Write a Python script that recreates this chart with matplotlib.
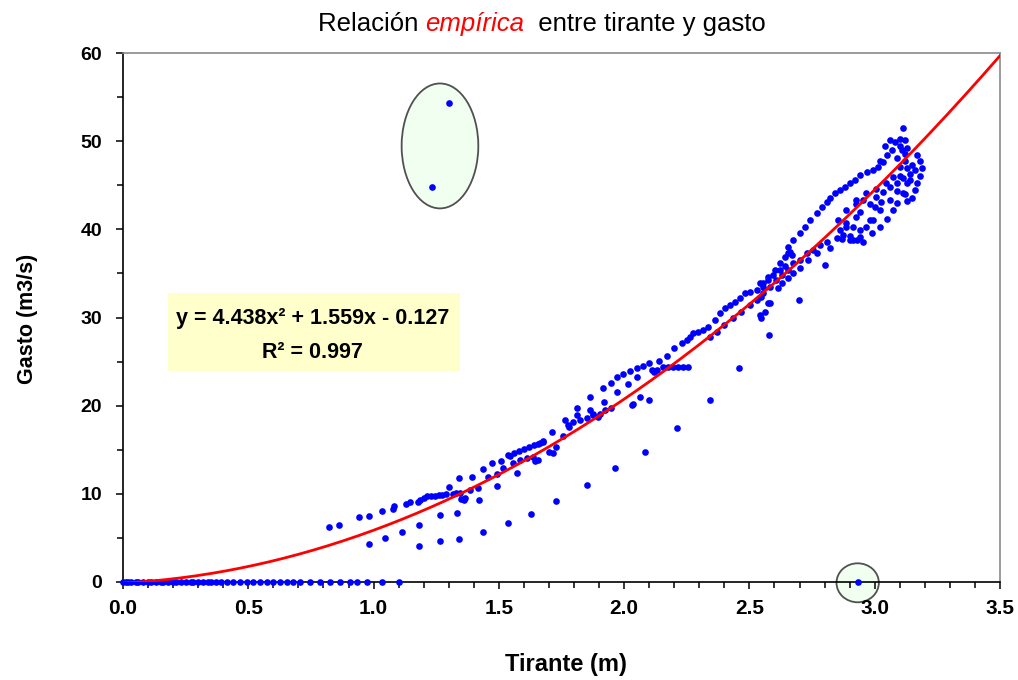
import matplotlib
matplotlib.use('Agg')
import matplotlib.pyplot as plt
from matplotlib.patches import Ellipse, Rectangle
import numpy as np

plt.rcParams['font.family'] = ['Liberation Sans', 'DejaVu Sans']

# ---------------- data ----------------
# readings with zero discharge
tirante_cero = [0.0, 0.01, 0.02, 0.03, 0.05, 0.06, 0.08, 0.10, 0.11, 0.13, 0.15, 0.16,
                0.18, 0.20, 0.21, 0.23, 0.25, 0.27, 0.28, 0.30, 0.32, 0.34, 0.35, 0.37,
                0.39, 0.414, 0.44, 0.467, 0.494, 0.52, 0.547, 0.573, 0.60, 0.627, 0.653,
                0.68, 0.706, 0.746, 0.786, 0.826, 0.866, 0.906, 0.932, 0.972, 1.032,
                1.102, 2.933]
gasto_cero = [0.0] * len(tirante_cero)

# isolated outliers (circled)
tirante_atipico = [1.232, 1.301]
gasto_atipico = [44.75, 54.3]

# low branch of scattered readings
tirante_bajo = [0.983, 1.045, 1.113, 1.182, 1.182, 1.265, 1.265, 1.334, 1.342, 1.435,
                1.535, 1.574, 1.628, 1.644, 1.73, 1.85, 1.963, 2.083, 2.209, 2.342,
                2.459, 2.579, 2.699, 2.801]
gasto_bajo = [4.31, 5.02, 5.70, 4.12, 6.46, 4.65, 7.6, 7.86, 4.84, 5.70,
              6.65, 12.32, 7.67, 13.7, 9.18, 11.0, 12.89, 14.7, 17.43, 20.63,
              24.23, 28.0, 31.97, 35.94]

# main band, 0.8 - 2.1 m
tirante_a = [0.823, 0.861, 0.943, 0.983, 1.032, 1.076, 1.083, 1.129, 1.145, 1.178,
             1.185, 1.20, 1.215, 1.23, 1.245, 1.26, 1.275, 1.29, 1.302, 1.318, 1.33,
             1.342, 1.345, 1.35, 1.36, 1.365, 1.385, 1.391, 1.418, 1.422, 1.435, 1.455,
             1.472, 1.491, 1.491, 1.508, 1.518, 1.538, 1.544, 1.558, 1.56, 1.58, 1.584,
             1.60, 1.611, 1.62, 1.637, 1.64, 1.657, 1.657, 1.664, 1.675, 1.675, 1.70,
             1.711, 1.717, 1.73, 1.757, 1.764, 1.777, 1.781, 1.797, 1.81, 1.81, 1.824,
             1.85, 1.864, 1.864, 1.874, 1.877, 1.897, 1.904, 1.914, 1.919, 1.924,
             1.946, 1.946, 1.97, 1.97, 1.997, 2.014, 2.023, 2.03, 2.034, 2.05, 2.052,
             2.063, 2.076, 2.10, 2.10]
gasto_a = [6.27, 6.46, 7.33, 7.52, 8.05, 8.24, 8.62, 8.84, 9.1, 9.1,
           9.3, 9.5, 9.7, 9.75, 9.8, 9.85, 9.9, 9.95, 10.73, 9.98, 10.1,
           11.76, 10.06, 9.4, 9.3, 9.5, 10.43, 11.87, 10.62, 9.3, 12.78, 11.87,
           13.46, 12.24, 10.88, 13.75, 12.89, 14.4, 14.29, 13.46, 14.6, 14.9, 13.83,
           15.1, 14.02, 15.3, 14.14, 15.5, 15.6, 13.83, 15.73, 16.02, 15.9, 14.77,
           17.04, 14.59, 15.35, 16.55, 18.37, 17.8, 17.61, 18.17, 19.76, 18.93, 18.37,
           18.56, 21.0, 19.5, 19.1, 18.93, 18.74, 19.05, 21.96, 20.44, 19.5,
           22.6, 19.7, 23.2, 21.58, 23.58, 22.41, 23.96, 20.07, 20.15, 24.23, 23.28,
           21.01, 24.49, 24.86, 20.63]

# main band, 2.1 - 2.85 m
tirante_b = [2.11, 2.12, 2.13, 2.14, 2.156, 2.17, 2.176, 2.196, 2.20, 2.216, 2.229,
             2.236, 2.249, 2.256, 2.262, 2.276, 2.296, 2.316, 2.336, 2.342, 2.362,
             2.37, 2.382, 2.40, 2.402, 2.422, 2.435, 2.442, 2.462, 2.468, 2.482,
             2.502, 2.502, 2.529, 2.53, 2.542, 2.542, 2.548, 2.548, 2.555, 2.556,
             2.556, 2.562, 2.575, 2.575, 2.575, 2.582, 2.584, 2.595, 2.602, 2.608,
             2.615, 2.622, 2.622, 2.628, 2.628, 2.642, 2.642, 2.652, 2.655, 2.655,
             2.655, 2.662, 2.668, 2.675, 2.675, 2.675, 2.702, 2.702, 2.702, 2.721,
             2.728, 2.735, 2.741, 2.755, 2.768, 2.768, 2.781, 2.788, 2.808, 2.808,
             2.821, 2.821]
gasto_b = [24.0, 23.8, 24.1, 25.06, 24.34, 25.62, 24.34, 24.34, 26.57, 24.34, 27.06,
           24.34, 27.44, 24.34, 27.81, 28.19, 28.38, 28.57, 28.95, 27.8, 29.7,
           28.3, 30.46, 29.1, 31.03, 31.4, 29.9, 31.78, 32.16, 30.65, 32.73,
           32.9, 31.4, 33.1, 32.0, 33.87, 30.27, 32.35, 29.9, 33.48, 33.87,
           32.73, 30.65, 34.24, 34.61, 31.6, 33.48, 31.67, 34.8, 35.37, 34.24,
           33.4, 35.37, 36.13, 34.8, 33.87, 35.83, 36.88, 37.27, 38.0, 35.37,
           34.43, 37.45, 37.07, 38.78, 36.13, 35.0, 39.53, 36.5, 35.56, 40.28,
           37.27, 36.5, 41.04, 37.64, 41.8, 37.27, 38.2, 42.55, 43.12, 38.58,
           43.5, 37.83]

# main band, 2.84 - 3.2 m
tirante_c = [2.841, 2.848, 2.854, 2.86, 2.861, 2.87, 2.874, 2.881, 2.887, 2.887,
             2.887, 2.90, 2.90, 2.901, 2.914, 2.914, 2.921, 2.927, 2.927, 2.927,
             2.93, 2.94, 2.94, 2.94, 2.941, 2.954, 2.954, 2.967, 2.967, 2.968, 2.98,
             2.98, 2.99, 2.994, 2.994, 3.0, 3.007, 3.007, 3.014, 3.02, 3.02, 3.02,
             3.027, 3.034, 3.034, 3.04, 3.047, 3.05, 3.05, 3.06, 3.06, 3.06, 3.07,
             3.074, 3.074, 3.08, 3.087, 3.087, 3.09, 3.09, 3.10, 3.10, 3.10, 3.10,
             3.11, 3.111, 3.114, 3.114, 3.12, 3.12, 3.12, 3.12, 3.127, 3.13, 3.13,
             3.13, 3.14, 3.14, 3.15, 3.15, 3.16, 3.16, 3.17, 3.17, 3.18, 3.18, 3.19]
gasto_c = [44.07, 38.97, 41.04, 39.9, 44.44, 38.9, 39.34, 44.82, 40.3, 42.2,
           40.67, 39.3, 38.8, 45.2, 40.28, 38.78, 45.58, 41.4, 43.3, 42.93,
           38.8, 39.1, 39.9, 41.98, 46.15, 38.6, 43.3, 44.07, 40.28, 46.52, 41.04,
           42.93, 39.6, 46.71, 41.04, 42.55, 44.6, 43.68, 47.09, 40.3, 42.2, 47.8,
           43.12, 47.66, 44.25, 49.5, 45.2, 41.2, 48.4, 43.3, 50.1, 44.82, 49.0,
           42.2, 45.95, 49.9, 44.4, 45.2, 43.0, 48.1, 47.1, 50.3, 46.1, 49.5,
           49.0, 51.44, 44.1, 45.77, 50.1, 47.8, 48.6, 44.0, 45.2, 49.2, 47.0,
           43.2, 46.3, 45.6, 47.3, 43.6, 46.7, 44.5, 48.4, 45.3, 47.8, 46.1, 46.9]

# fitted trend line shown in the chart: y = a x^2 + b x + c
coef_a, coef_b, coef_c = 4.438, 1.559, -0.127
r2 = 0.997

x_ticks = [0.0, 0.5, 1.0, 1.5, 2.0, 2.5, 3.0, 3.5]
y_ticks = [0, 10, 20, 30, 40, 50, 60]

# ---------------- figure ----------------
W, H = 1018, 680
fig = plt.figure(figsize=(W / 100, H / 100), dpi=100)
ax = fig.add_axes([123 / W, 1 - 582 / H, (1000 - 123) / W, (582 - 53) / H])

ax.set_xlim(0, 3.5)
ax.set_ylim(0, 60)

# ellipses highlighting outliers
ax.add_patch(Ellipse((1.265, 49.46), 0.306, 14.17, facecolor='#F0FFF0',
                     edgecolor='#505050', lw=1.3, zorder=1))
ax.add_patch(Ellipse((2.932, -0.09), 0.169, 4.42, facecolor='#F0FFF0',
                     edgecolor='#505050', lw=1.3, zorder=1, clip_on=False))

# equation box
ax.add_patch(Rectangle((0.18, 23.9), 1.165, 8.87, facecolor='#FFFFCC',
                       edgecolor='none', zorder=1))
ax.text(0.758, 29.93, f'y = {coef_a:.3f}x\u00b2 + {coef_b:.3f}x - {abs(coef_c):.3f}',
        ha='center', va='center', fontsize=15.5, fontweight='bold', zorder=2)
ax.text(0.758, 26.08, f'R\u00b2 = {r2:.3f}', ha='center', va='center',
        fontsize=15.5, fontweight='bold', zorder=2)

mk = dict(ls='none', marker='o', ms=4.8, color='#0000FF', mec='none', zorder=3)
for xs, ys in [(tirante_cero, gasto_cero), (tirante_atipico, gasto_atipico),
               (tirante_bajo, gasto_bajo), (tirante_a, gasto_a),
               (tirante_b, gasto_b), (tirante_c, gasto_c)]:
    ax.plot(xs, ys, clip_on=False, **mk)

xf = np.linspace(0.0, 3.5, 300)
ax.plot(xf, coef_a * xf ** 2 + coef_b * xf + coef_c, color='#FF0000', lw=2.0, zorder=4)

# axes styling
ax.set_xticks(x_ticks)
ax.set_xticklabels([f'{v:.1f}' for v in x_ticks])
ax.set_xticks(np.arange(0, 3.51, 0.1), minor=True)
ax.set_yticks(y_ticks)
ax.set_yticklabels([str(v) for v in y_ticks])
ax.set_yticks([5, 15, 25, 35, 45, 55], minor=True)
ax.tick_params(which='major', length=5, width=1.1, direction='out')
ax.tick_params(which='minor', length=4, width=1.1, direction='out')
ax.tick_params(axis='x', which='major', labelsize=15, pad=7)
ax.tick_params(axis='y', which='major', labelsize=14, pad=10)
for lab in ax.get_xticklabels() + ax.get_yticklabels():
    lab.set_fontweight('bold')
for s in ['left', 'bottom']:
    ax.spines[s].set_color('black')
    ax.spines[s].set_linewidth(1.2)
for s in ['top', 'right']:
    ax.spines[s].set_color('#8a8a8a')
    ax.spines[s].set_linewidth(1.2)

fig.text(28 / W, 1 - 319 / H, 'Gasto (m3/s)', rotation=90, ha='center', va='center',
         fontsize=15.5, fontweight='bold')
fig.text(566 / W, 1 - 664 / H, 'Tirante (m)', ha='center', va='center',
         fontsize=17, fontweight='bold')

# title built from pieces
renderer = fig.canvas.get_renderer()
x0 = 318 / W
ty = 1 - 24 / H
pieces = [('Relaci\u00f3n ', 'black', 'normal'), ('emp\u00edrica', '#FF0000', 'italic'),
          ('  entre tirante y gasto', 'black', 'normal')]
for txt, col, sty in pieces:
    t = fig.text(x0, ty, txt, color=col, style=sty, fontsize=18.5, ha='left',
                 va='center')
    bb = t.get_window_extent(renderer=renderer)
    x0 += bb.width / W

fig.savefig('out.png', dpi=100)
